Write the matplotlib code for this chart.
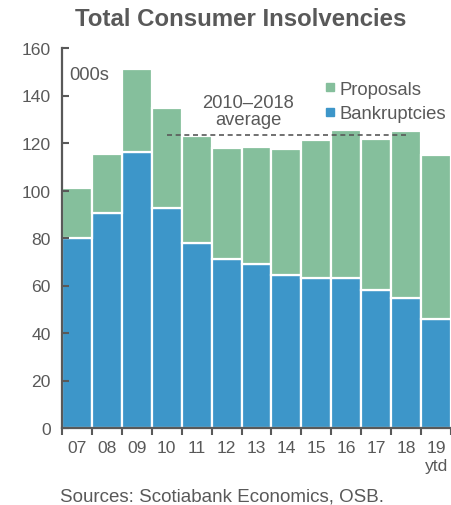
import numpy as np
import matplotlib.pyplot as plt
from matplotlib.lines import Line2D

plt.rcParams['font.family'] = ['Liberation Sans', 'DejaVu Sans']

# consumer insolvencies, thousands
years = ['07', '08', '09', '10', '11', '12', '13', '14', '15', '16', '17', '18', '19\nytd']
bankruptcies = [79.8, 90.5, 116.2, 92.7, 78.0, 71.3, 68.9, 64.4, 63.0, 63.2, 58.0, 54.9, 45.8]
totals = [100.9, 115.5, 151.2, 134.6, 122.8, 117.9, 118.3, 117.6, 121.1, 125.3, 121.8, 124.9, 114.8]
proposals = [t - b for t, b in zip(totals, bankruptcies)]
avg_2010_2018 = 123.4

BLUE = '#3d96c9'
GREEN = '#85bf9c'
GREY = '#595959'

fig = plt.figure(figsize=(4.51, 5.06), dpi=100)
ax = fig.add_axes([62 / 451, 77 / 506, 389 / 451, 380 / 506])

x = np.arange(len(years))
ax.bar(x, bankruptcies, width=1.0, color=BLUE, edgecolor='white', linewidth=1.6, zorder=1)
ax.bar(x, proposals, bottom=bankruptcies, width=1.0, color=GREEN, edgecolor='white',
       linewidth=1.6, zorder=1)

# 2010-2018 average line, from the 2010 bar to the 2018 bar
ax.plot([3, 11], [avg_2010_2018, avg_2010_2018], ls=(0, (3, 2.2)), color=GREY, lw=1.2, zorder=3)
ax.text(5.73, 133.6, '2010–2018\naverage', ha='center', va='center',
        fontsize=13.2, color=GREY, linespacing=1.0)

ax.text(-0.25, 149, '000s', fontsize=13.2, color=GREY, ha='left', va='center')

handles = [Line2D([], [], marker='s', ls='none', color=GREEN, markersize=5.5),
           Line2D([], [], marker='s', ls='none', color=BLUE, markersize=5.5)]
leg = ax.legend(handles, ['Proposals', 'Bankruptcies'], loc='upper left',
                bbox_to_anchor=(0.676, 0.914), frameon=False, fontsize=13.3,
                handlelength=0.5, handletextpad=0.3, labelspacing=0.42,
                borderaxespad=0, borderpad=0)
for t in leg.get_texts():
    t.set_color(GREY)

ax.set_xlim(-0.5, 12.47)
ax.set_ylim(0, 160)
ax.set_yticks(np.arange(0, 161, 20))
ax.set_xticks(x)
ax.set_xticklabels(years)
ax.set_xticks(np.arange(-0.5, 13, 1.0), minor=True)
ax.tick_params(axis='x', which='major', length=0, pad=9, labelsize=12.6, labelcolor=GREY)
ax.tick_params(axis='x', which='minor', direction='out', length=5, width=1.5, color=GREY)
ax.tick_params(axis='y', direction='in', length=5, width=1.5, color=GREY,
               labelsize=12.6, labelcolor=GREY, pad=8)
for s in ['top', 'right']:
    ax.spines[s].set_visible(False)
for s in ['left', 'bottom']:
    ax.spines[s].set_color(GREY)
    ax.spines[s].set_linewidth(1.6)
    ax.spines[s].set_zorder(4)

fig.text(241 / 451, 1 - 20 / 506, 'Total Consumer Insolvencies', ha='center', va='center',
         fontsize=17.3, fontweight='bold', color=GREY)
fig.text(60 / 451, 1 - 497 / 506, 'Sources: Scotiabank Economics, OSB.', ha='left',
         va='center', fontsize=13.5, color=GREY)

fig.savefig('out.png', dpi=100)
